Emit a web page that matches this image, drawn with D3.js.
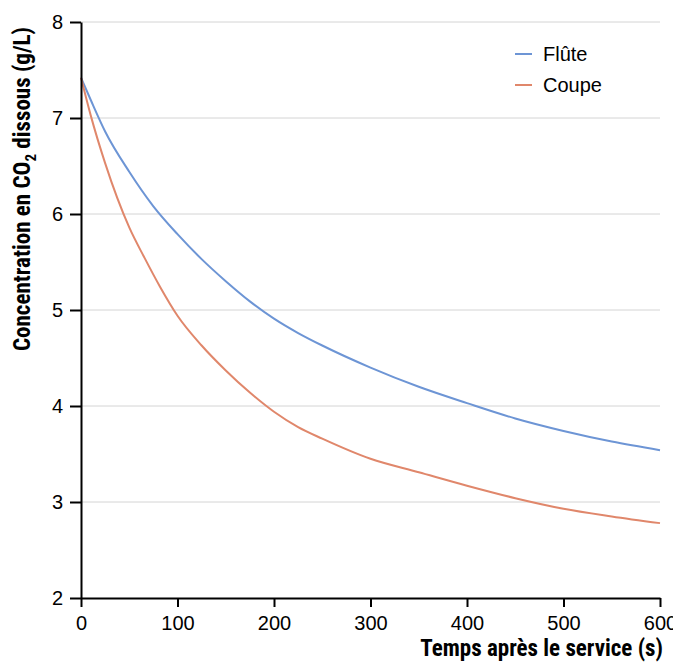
<!DOCTYPE html>
<html>
<head>
<meta charset="utf-8">
<script src="https://cdn.jsdelivr.net/npm/d3@7"></script>
<style>
  body { margin: 0; background: #fff; }
  svg { display: block; font-family: "Liberation Sans", Arial, sans-serif; }
  .title { font-family: "Liberation Sans Narrow", "Roboto Condensed", "DejaVu Sans Condensed", sans-serif; font-weight: bold; }
</style>
</head>
<body>
<div id="chart"></div>
<script>
// Time (s) and dissolved CO2 (g/L)
const timesFlute = [0, 10, 25, 50, 75, 100, 125, 150, 175, 200, 225, 250, 300, 350, 400, 450, 500, 550, 600];
const flute = [7.42, 7.19, 6.86, 6.44, 6.08, 5.79, 5.53, 5.30, 5.09, 4.91, 4.76, 4.63, 4.40, 4.20, 4.03, 3.87, 3.74, 3.63, 3.54];

const timesCoupe = [0, 10, 25, 50, 66, 82, 100, 125, 150, 175, 200, 225, 250, 300, 350, 400, 450, 500, 550, 600];
const coupe = [7.42, 7.03, 6.53, 5.86, 5.54, 5.24, 4.94, 4.63, 4.37, 4.14, 3.94, 3.78, 3.66, 3.45, 3.31, 3.17, 3.04, 2.93, 2.85, 2.78];

const xTicks = [0, 100, 200, 300, 400, 500, 600];
const yTicks = [2, 3, 4, 5, 6, 7, 8];
const seriesNames = ["Flûte", "Coupe"];
const colors = ["#6d95d5", "#e0876b"];

const W = 673, H = 662;

const svg = d3.select("#chart")
    .append("svg")
    .attr("width", W)
    .attr("height", H);

const x = d3.scaleLinear().domain([0, 600]).range([81, 660]);
const y = d3.scaleLinear().domain([2, 8]).range([598, 22]);

// Gridlines
svg.append("g")
    .selectAll("line")
    .data(yTicks.filter(d => d > 2))
    .enter()
    .append("line")
    .attr("x1", x(0))
    .attr("x2", x(600))
    .attr("y1", d => y(d))
    .attr("y2", d => y(d))
    .attr("stroke", "#d4d4d4")
    .attr("stroke-width", 1);

// Lines
const line = d3.line()
    .x(d => x(d[0]))
    .y(d => y(d[1]))
    .curve(d3.curveMonotoneX);

const series = [
    d3.zip(timesFlute, flute),
    d3.zip(timesCoupe, coupe)
];

svg.append("g")
    .selectAll("path")
    .data(series)
    .enter()
    .append("path")
    .attr("d", line)
    .attr("fill", "none")
    .attr("stroke", (d, i) => colors[i])
    .attr("stroke-width", 2);

// Axes
const xAxis = svg.append("g")
    .attr("transform", `translate(0,${y(2)})`)
    .call(d3.axisBottom(x).tickValues(xTicks).tickSize(9).tickSizeOuter(0));

const yAxis = svg.append("g")
    .attr("transform", `translate(${x(0)},0)`)
    .call(d3.axisLeft(y).tickValues(yTicks).tickFormat(d3.format("d")).tickSize(11).tickSizeOuter(0));

[xAxis, yAxis].forEach(g => {
    g.select(".domain").attr("stroke", "#000").attr("stroke-width", 2);
    g.selectAll(".tick line").attr("stroke", "#000").attr("stroke-width", 2);
    g.selectAll(".tick text")
        .attr("fill", "#000")
        .attr("font-size", "20px")
        .attr("font-family", null);
});
xAxis.selectAll(".tick text").attr("y", 18).attr("dy", "0.71em");
yAxis.selectAll(".tick text").attr("x", -18);

// Axis titles
svg.append("text")
    .attr("class", "title")
    .attr("x", 663)
    .attr("y", 656)
    .attr("text-anchor", "end")
    .attr("font-size", "23px")
    .text("Temps après le service (s)");

const yTitle = svg.append("text")
    .attr("class", "title")
    .attr("transform", "translate(30,189) rotate(-90)")
    .attr("text-anchor", "middle")
    .attr("font-size", "23px");
yTitle.append("tspan").text("Concentration en CO");
yTitle.append("tspan").attr("font-size", "15px").attr("dy", 6).text("2");
yTitle.append("tspan").attr("dy", -6).text(" dissous (g/L)");

// Legend
const legend = svg.append("g")
    .selectAll("g")
    .data(seriesNames)
    .enter()
    .append("g")
    .attr("transform", (d, i) => `translate(515,${54 + i * 31})`);

legend.append("line")
    .attr("x1", 0)
    .attr("x2", 17)
    .attr("stroke", (d, i) => colors[i])
    .attr("stroke-width", 2);

legend.append("text")
    .attr("x", 28)
    .attr("dy", "0.36em")
    .attr("font-size", "20px")
    .text(d => d);
</script>
</body>
</html>
